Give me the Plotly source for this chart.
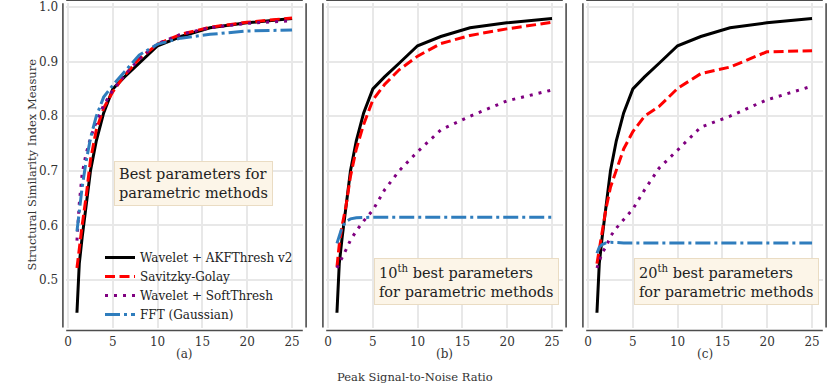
import plotly.graph_objects as go
from plotly.subplots import make_subplots

# PSNR values (x axis)
psnr = [1.0, 1.26, 1.58, 2.0, 2.51, 3.16, 3.98, 5.01, 6.31, 7.94, 10.0, 12.59, 15.85, 19.95, 25.0]

# Wavelet + AKFThresh v2 (same in every panel)
akf = [0.44, 0.53, 0.578, 0.635, 0.70, 0.755, 0.806, 0.850, 0.872, 0.897, 0.929, 0.946, 0.962, 0.971, 0.979]

# (a) best parameters
sg_a = [0.522, 0.56, 0.60, 0.65, 0.72, 0.775, 0.815, 0.845, 0.875, 0.905, 0.932, 0.950, 0.963, 0.972, 0.980]
soft_a = [0.572, 0.64, 0.695, 0.73, 0.76, 0.79, 0.82, 0.848, 0.875, 0.905, 0.933, 0.950, 0.962, 0.970, 0.975]
fft_a = [0.589, 0.63, 0.67, 0.715, 0.76, 0.80, 0.835, 0.857, 0.882, 0.912, 0.932, 0.943, 0.950, 0.956, 0.958]

# (b) 10th best parameters
sg_b = [0.524, 0.565, 0.60, 0.635, 0.69, 0.74, 0.785, 0.830, 0.858, 0.885, 0.910, 0.933, 0.948, 0.960, 0.972]
soft_b = [0.522, 0.53, 0.54, 0.555, 0.573, 0.59, 0.608, 0.628, 0.665, 0.70, 0.735, 0.775, 0.800, 0.828, 0.848]
fft_b = [0.567, 0.58, 0.597, 0.607, 0.612, 0.614, 0.615, 0.615, 0.615, 0.615, 0.616, 0.616, 0.616, 0.616, 0.615]

# (c) 20th best parameters
sg_c = [0.53, 0.555, 0.585, 0.63, 0.67, 0.70, 0.74, 0.772, 0.800, 0.818, 0.851, 0.878, 0.890, 0.918, 0.920]
soft_c = [0.522, 0.535, 0.55, 0.56, 0.58, 0.595, 0.61, 0.63, 0.665, 0.705, 0.738, 0.780, 0.800, 0.830, 0.855]
fft_c = [0.549, 0.56, 0.565, 0.568, 0.569, 0.568, 0.568, 0.568, 0.568, 0.568, 0.568, 0.568, 0.568, 0.568, 0.568]

names = ['Wavelet + AKFThresh v2', 'Savitzky-Golay', 'Wavelet + SoftThresh', 'FFT (Gaussian)']
colors = ['black', '#ff0000', '#800080', '#2f7dbd']
dashes = ['solid', '10px,4.5px', '3px,6px', '15px,4px,3px,4px']

panels = [
    [akf, sg_a, soft_a, fft_a],
    [akf, sg_b, soft_b, fft_b],
    [akf, sg_c, soft_c, fft_c],
]

W, H = 831, 385
FONT = 'DejaVu Serif'

fig = make_subplots(rows=1, cols=3, shared_yaxes=False)

for col, series in enumerate(panels, start=1):
    for k, ys in enumerate(series):
        fig.add_trace(go.Scatter(
            x=psnr, y=ys, mode='lines', name=names[k],
            line=dict(color=colors[k], width=3, dash=dashes[k]),
            showlegend=(col == 1),
        ), row=1, col=col)

x_dom = [(66.2, 302.8), (326.2, 562.8), (586.2, 822.8)]
y_dom = [1 - 327.5 / H, 1 - 3.2 / H]

shapes = []
for i, (l, r) in enumerate(x_dom, start=1):
    sfx = '' if i == 1 else str(i)
    fig.update_layout({
        'xaxis' + sfx: dict(domain=[l / W, r / W], range=[-0.2, 26.2], automargin=False,
                            tickvals=[0, 5, 10, 15, 20, 25], showline=False,
                            zeroline=False, showgrid=True, gridcolor='#e8e8e8', gridwidth=1.5,
                            ticks='', ticklabelstandoff=5,
                            tickfont=dict(family=FONT, size=12, color='#333333')),
        'yaxis' + sfx: dict(domain=y_dom, range=[0.413, 1.007], automargin=False,
                            tickvals=[0.5, 0.6, 0.7, 0.8, 0.9, 1.0], ticktext=['0.5', '0.6', '0.7', '0.8', '0.9', '1.0'],
                            showticklabels=(i == 1), showline=False,
                            zeroline=False, showgrid=True, gridcolor='#e8e8e8', gridwidth=1.5,
                            ticks='', ticklabelstandoff=7,
                            tickfont=dict(family=FONT, size=12, color='#333333')),
    })
    ox = 3.3 / (r - l)
    oy = 3.0 / 324.3
    xr = 'x' + sfx + ' domain'
    yr = 'y' + sfx + ' domain'
    spine = dict(type='line', xref=xr, yref=yr, line=dict(color='#4d4d4d', width=1.6))
    shapes.append({**spine, 'x0': -ox, 'x1': -ox, 'y0': 0, 'y1': 1})
    shapes.append({**spine, 'x0': 1 + ox, 'x1': 1 + ox, 'y0': 0, 'y1': 1})
    shapes.append({**spine, 'x0': 0, 'x1': 1, 'y0': -oy, 'y1': -oy})
    shapes.append({**spine, 'x0': 0, 'x1': 1, 'y0': 1 + oy, 'y1': 1 + oy})

box = dict(xref='paper', yref='paper', xanchor='left', yanchor='top', showarrow=False,
           align='left', bgcolor='#fcf5e8', bordercolor='#eadcc3', borderwidth=1, borderpad=4,
           font=dict(family=FONT, size=14.5, color='#222222'))
annotations = [
    {**box, 'x': 114 / W, 'y': 1 - 161 / H, 'text': 'Best parameters for<br>parametric methods'},
    {**box, 'x': 374 / W, 'y': 1 - 258 / H, 'text': '10<sup>th</sup> best parameters<br>for parametric methods'},
    {**box, 'x': 634 / W, 'y': 1 - 258 / H, 'text': '20<sup>th</sup> best parameters<br>for parametric methods'},
]
lab = dict(xref='paper', yref='paper', showarrow=False, xanchor='center', yanchor='middle',
           font=dict(family=FONT, size=12, color='#333333'))
for txt, cx in zip(['(a)', '(b)', '(c)'], [184.5, 444.5, 704.5]):
    annotations.append({**lab, 'x': cx / W, 'y': 1 - 354 / H, 'text': txt})
annotations.append({**lab, 'x': 415 / W, 'y': 1 - 377 / H, 'text': 'Peak Signal-to-Noise Ratio',
                    'font': dict(family=FONT, size=11.5, color='#333333')})
annotations.append({**lab, 'x': 31.5 / W, 'y': 1 - 165 / H, 'text': 'Structural Similarity Index Measure',
                    'textangle': -90, 'font': dict(family=FONT, size=11.5, color='#333333')})

fig.update_layout(
    width=W, height=H,
    margin=dict(l=0, r=0, t=0, b=0, autoexpand=False),
    paper_bgcolor='white', plot_bgcolor='white',
    font=dict(family=FONT, color='#333333'),
    shapes=shapes,
    annotations=annotations,
    legend=dict(x=100 / W, y=1 - 243 / H, xanchor='left', yanchor='top',
                bgcolor='rgba(0,0,0,0)', borderwidth=0, tracegroupgap=0,
                font=dict(family=FONT, size=12, color='#222222')),
)

# page body has a default 8px margin; drop it so the figure sits at the window origin
fig.write_html("out.html", config={'displayModeBar': False},
               post_script="document.body.style.margin='0';")
